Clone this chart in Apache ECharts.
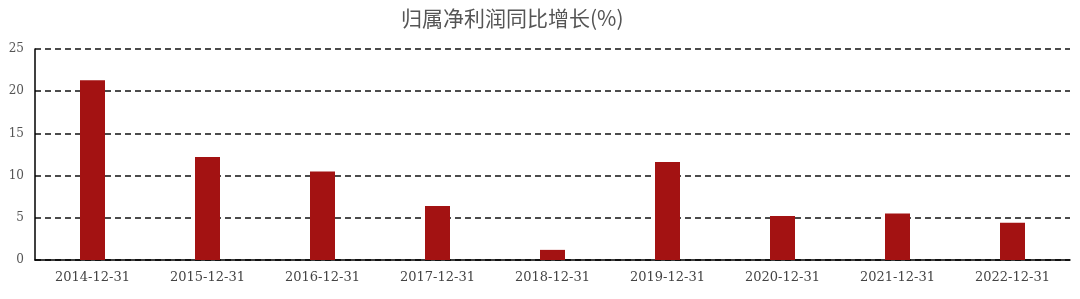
<!DOCTYPE html>
<html><head><meta charset="utf-8">
<script src="https://cdn.jsdelivr.net/npm/echarts@6/dist/echarts.min.js"></script>
<style>html,body{margin:0;padding:0;background:#fff}#c{width:1080px;height:299px}</style>
</head><body><div id="c"></div>
<script>
const categories = ['2014-12-31','2015-12-31','2016-12-31','2017-12-31','2018-12-31','2019-12-31','2020-12-31','2021-12-31','2022-12-31'];
const values = [21.3, 12.2, 10.5, 6.4, 1.2, 11.6, 5.2, 5.5, 4.4];
const titleText = '归属净利润同比增长(%)';
const chart = echarts.init(document.getElementById('c'));
chart.setOption({
  animation:false,
  title:{text:titleText,left:396,top:3,textStyle:{fontSize:21,fontWeight:'normal',color:'#555',fontFamily:'Noto Sans CJK SC'}},
  grid:{left:35,right:10,top:49,bottom:39},
  xAxis:{type:'category',data:categories,
    axisLine:{lineStyle:{color:'#000',width:1.5}},axisTick:{show:false},
    axisLabel:{color:'#444',fontSize:13,fontFamily:'DejaVu Serif, serif',margin:11}},
  yAxis:{type:'value',min:0,max:25,interval:5,
    axisLine:{show:true,lineStyle:{color:'#000',width:1.5}},axisTick:{show:false},
    axisLabel:{color:'#555',fontSize:12,fontFamily:'DejaVu Serif, serif',margin:11}},
  series:[{type:'bar',data:values,barWidth:25,itemStyle:{color:'#a31212'}}]
});
chart.setOption({yAxis:{splitLine:{lineStyle:{type:[6,4],color:'#111',width:1.5}}}});
</script></body></html>
